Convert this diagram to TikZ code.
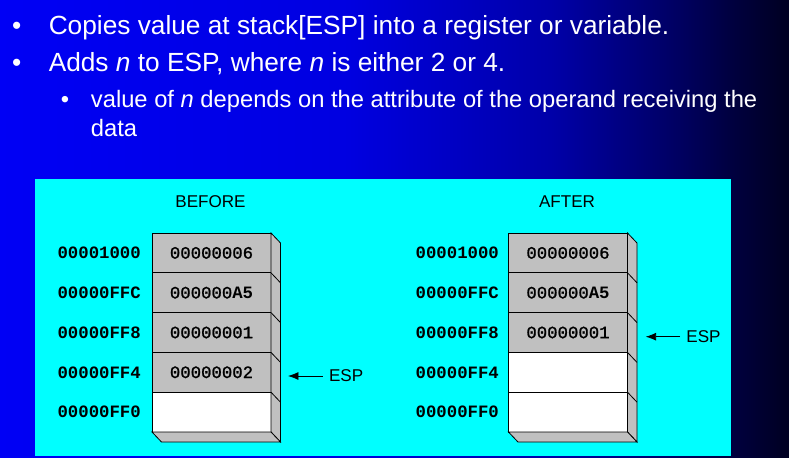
\documentclass[tikz,border=0pt]{standalone}
\usepackage{fontspec}
\setmainfont{Liberation Sans}
\setmonofont{Liberation Mono}
\newfontfamily\valfont{Liberation Mono}[FakeBold=1.2]
\usetikzlibrary{calc}
\usetikzlibrary{positioning}
\usetikzlibrary{arrows.meta}

\definecolor{panelcyan}{RGB}{0,255,255}
\definecolor{stackgray}{RGB}{192,192,192}

% slide background, dark towards the right
\pgfdeclarehorizontalshading{slidebg}{100bp}{%
    rgb(0bp)=(0,0,0.96); rgb(25bp)=(0,0,0.96); rgb(47bp)=(0,0,0.88);
    rgb(60bp)=(0,0,0.66); rgb(68bp)=(0,0,0.38); rgb(71.3bp)=(0,0,0.25);
    rgb(75bp)=(0,0,0.13); rgb(100bp)=(0,0,0.13)}

\newcommand{\bigtext}{\fontsize{19.7}{23}\selectfont}
\newcommand{\subtext}{\fontsize{17.8}{21}\selectfont}
\newcommand{\headtext}{\fontsize{12.8}{15}\selectfont}
\newcommand{\celltext}{\fontsize{13}{15}\selectfont\valfont}
\newcommand{\addrtext}{\fontsize{13}{15}\selectfont\ttfamily\bfseries}

\tikzset{
    cell/.style={draw, line width=0.6pt, minimum width=89.25pt, minimum height=29.85pt,
        inner sep=0pt, outer sep=0pt, font=\celltext},
    fullcell/.style={cell, fill=stackgray},
    emptycell/.style={cell, fill=white},
    addr/.style={font=\addrtext, inner sep=0pt, anchor=east},
    heading/.style={font=\headtext, inner sep=0pt},
    esplabel/.style={font=\headtext, inner ysep=0pt, inner xsep=4.6pt, anchor=west},
    esparrow/.style={-{Latex[length=7.8pt,width=6pt]}, line width=0.6pt},
    bullet/.style={text=white, inner sep=0pt, anchor=base},
    line/.style={text=white, inner sep=0pt, anchor=base west},
}

\begin{document}
\begin{tikzpicture}[x=0.75pt, y=-0.75pt]
    \useasboundingbox (0,0) rectangle (789,457);

    % background and panel
    \shade[shading=slidebg] (0,0) rectangle (789,457);
    \fill[panelcyan] (35,179) rectangle (731,456);

    % bullet text
    \node[bullet, font=\bigtext] (dot1) at (16.7,34.3) {•};
    \node[line, font=\bigtext] (txt1) at (48.5,34.3) {Copies value at stack[ESP] into a register or variable.};
    \node[bullet, font=\bigtext] (dot2) at (16.7,71.7) {•};
    \node[line, font=\bigtext] (txt2) at (48.5,71.7) {Adds \textit{n} to ESP, where \textit{n} is either 2 or 4.};
    \node[bullet, font=\subtext] (dot3) at (65,107) {•};
    \node[line, font=\subtext] (txt3) at (90.7,107) {value of \textit{n} depends on the attribute of the operand receiving the};
    \node[line, font=\subtext] (txt4) at (90.7,136) {data};

    % depth of the stack boxes
    \coordinate (D) at (9.5,10);

    % BEFORE stack
    \node[heading] (before) at (210.5,201.5) {BEFORE};
    \node[fullcell] (B1) at (211.5,252.9) {00000006};
    \node[fullcell, below=0pt of B1] (B2) {000000{\ttfamily\bfseries A5}};
    \node[fullcell, below=0pt of B2] (B3) {00000001};
    \node[fullcell, below=0pt of B3] (B4) {00000002};
    \node[emptycell, below=0pt of B4] (B5) {};

    \filldraw[fill=stackgray, line width=0.6pt]
        (B1.north east) -- ($(B1.north east)+(D)$) -- ($(B5.south east)+(D)$) -- (B5.south east) -- cycle;
    \filldraw[fill=stackgray, line width=0.6pt]
        (B5.south west) -- ($(B5.south west)+(D)$) -- ($(B5.south east)+(D)$) -- (B5.south east) -- cycle;
    \foreach \c in {B2,B3,B4,B5}
        \draw[line width=0.6pt] (\c.north east) -- ($(\c.north east)+(D)$);

    \node[addr, left=8.2pt of B1] (aB1) {00001000};
    \node[addr, left=8.2pt of B2] (aB2) {00000FFC};
    \node[addr, left=8.2pt of B3] (aB3) {00000FF8};
    \node[addr, left=8.2pt of B4] (aB4) {00000FF4};
    \node[addr, left=8.2pt of B5] (aB5) {00000FF0};

    \coordinate (tipB) at (288,376);
    \node[esplabel] (espB) at (322.7,376) {ESP};
    \draw[esparrow] (espB) -- (tipB);

    % AFTER stack
    \node[heading] (after) at (567,201.5) {AFTER};
    \node[fullcell] (A1) at (568,252.9) {00000006};
    \node[fullcell, below=0pt of A1] (A2) {000000{\ttfamily\bfseries A5}};
    \node[fullcell, below=0pt of A2] (A3) {00000001};
    \node[emptycell, below=0pt of A3] (A4) {};
    \node[emptycell, below=0pt of A4] (A5) {};

    \filldraw[fill=stackgray, line width=0.6pt]
        (A1.north east) -- ($(A1.north east)+(D)$) -- ($(A5.south east)+(D)$) -- (A5.south east) -- cycle;
    \filldraw[fill=stackgray, line width=0.6pt]
        (A5.south west) -- ($(A5.south west)+(D)$) -- ($(A5.south east)+(D)$) -- (A5.south east) -- cycle;
    \foreach \c in {A2,A3,A4,A5}
        \draw[line width=0.6pt] (\c.north east) -- ($(\c.north east)+(D)$);

    \node[addr, left=7pt of A1] (aA1) {00001000};
    \node[addr, left=7pt of A2] (aA2) {00000FFC};
    \node[addr, left=7pt of A3] (aA3) {00000FF8};
    \node[addr, left=7pt of A4] (aA4) {00000FF4};
    \node[addr, left=7pt of A5] (aA5) {00000FF0};

    \coordinate (tipA) at (645.7,336.7);
    \node[esplabel] (espA) at (680,336.7) {ESP};
    \draw[esparrow] (espA) -- (tipA);
\end{tikzpicture}
\end{document}
